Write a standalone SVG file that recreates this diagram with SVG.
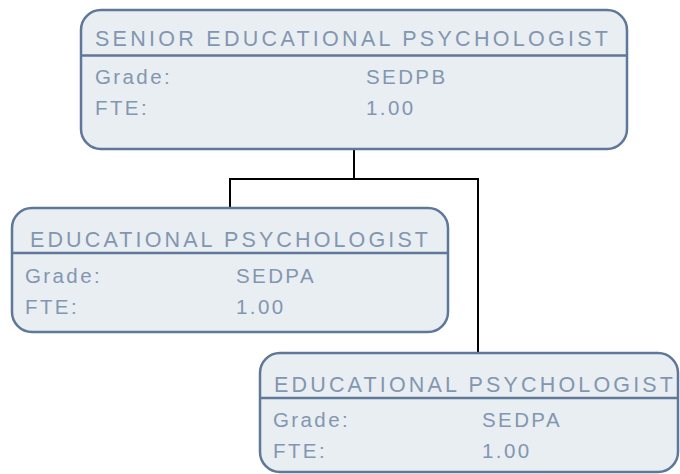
<svg xmlns="http://www.w3.org/2000/svg" width="680" height="474" viewBox="0 0 680 474">
<style>
.box{fill:#e9eef2;stroke:#5f7798;stroke-width:2.5}
.div{stroke:#5f7798;stroke-width:2.5}
.title{font-family:"Liberation Sans",Arial,sans-serif;font-size:21.5px;fill:#8396b0}
.row{font-family:"Liberation Sans",Arial,sans-serif;font-size:20.5px;fill:#8396b0;letter-spacing:2.4px}
.conn{fill:none;stroke:#000;stroke-width:2}
</style>
<rect width="680" height="474" fill="#fff"/>
<g id="connectors">
<path class="conn" d="M354,149 V179 M230,208 V179 H478 V353"/>
</g>
<g id="senior">
<rect class="box" x="81" y="10" width="546" height="139" rx="20"/>
<line class="div" x1="81" y1="55.5" x2="627" y2="55.5"/>
<text class="title" x="95" y="45.5" textLength="513" lengthAdjust="spacing">SENIOR EDUCATIONAL PSYCHOLOGIST</text>
<text class="row" x="95" y="84">Grade:</text>
<text class="row" x="366" y="84">SEDPB</text>
<text class="row" x="95" y="115">FTE:</text>
<text class="row" x="366" y="115">1.00</text>
</g>
<g id="ep1">
<rect class="box" x="12" y="208" width="436" height="124" rx="20"/>
<line class="div" x1="12" y1="253" x2="448" y2="253"/>
<text class="title" x="30" y="246.5" textLength="398" lengthAdjust="spacing">EDUCATIONAL PSYCHOLOGIST</text>
<text class="row" x="25" y="282.5">Grade:</text>
<text class="row" x="236" y="282.5">SEDPA</text>
<text class="row" x="25" y="314">FTE:</text>
<text class="row" x="236" y="314">1.00</text>
</g>
<g id="ep2">
<rect class="box" x="260" y="353" width="418" height="119" rx="20"/>
<line class="div" x1="260" y1="398" x2="678" y2="398"/>
<text class="title" x="274" y="391.5" textLength="399" lengthAdjust="spacing">EDUCATIONAL PSYCHOLOGIST</text>
<text class="row" x="273" y="427">Grade:</text>
<text class="row" x="482" y="427">SEDPA</text>
<text class="row" x="273" y="458">FTE:</text>
<text class="row" x="482" y="458">1.00</text>
</g>
</svg>
